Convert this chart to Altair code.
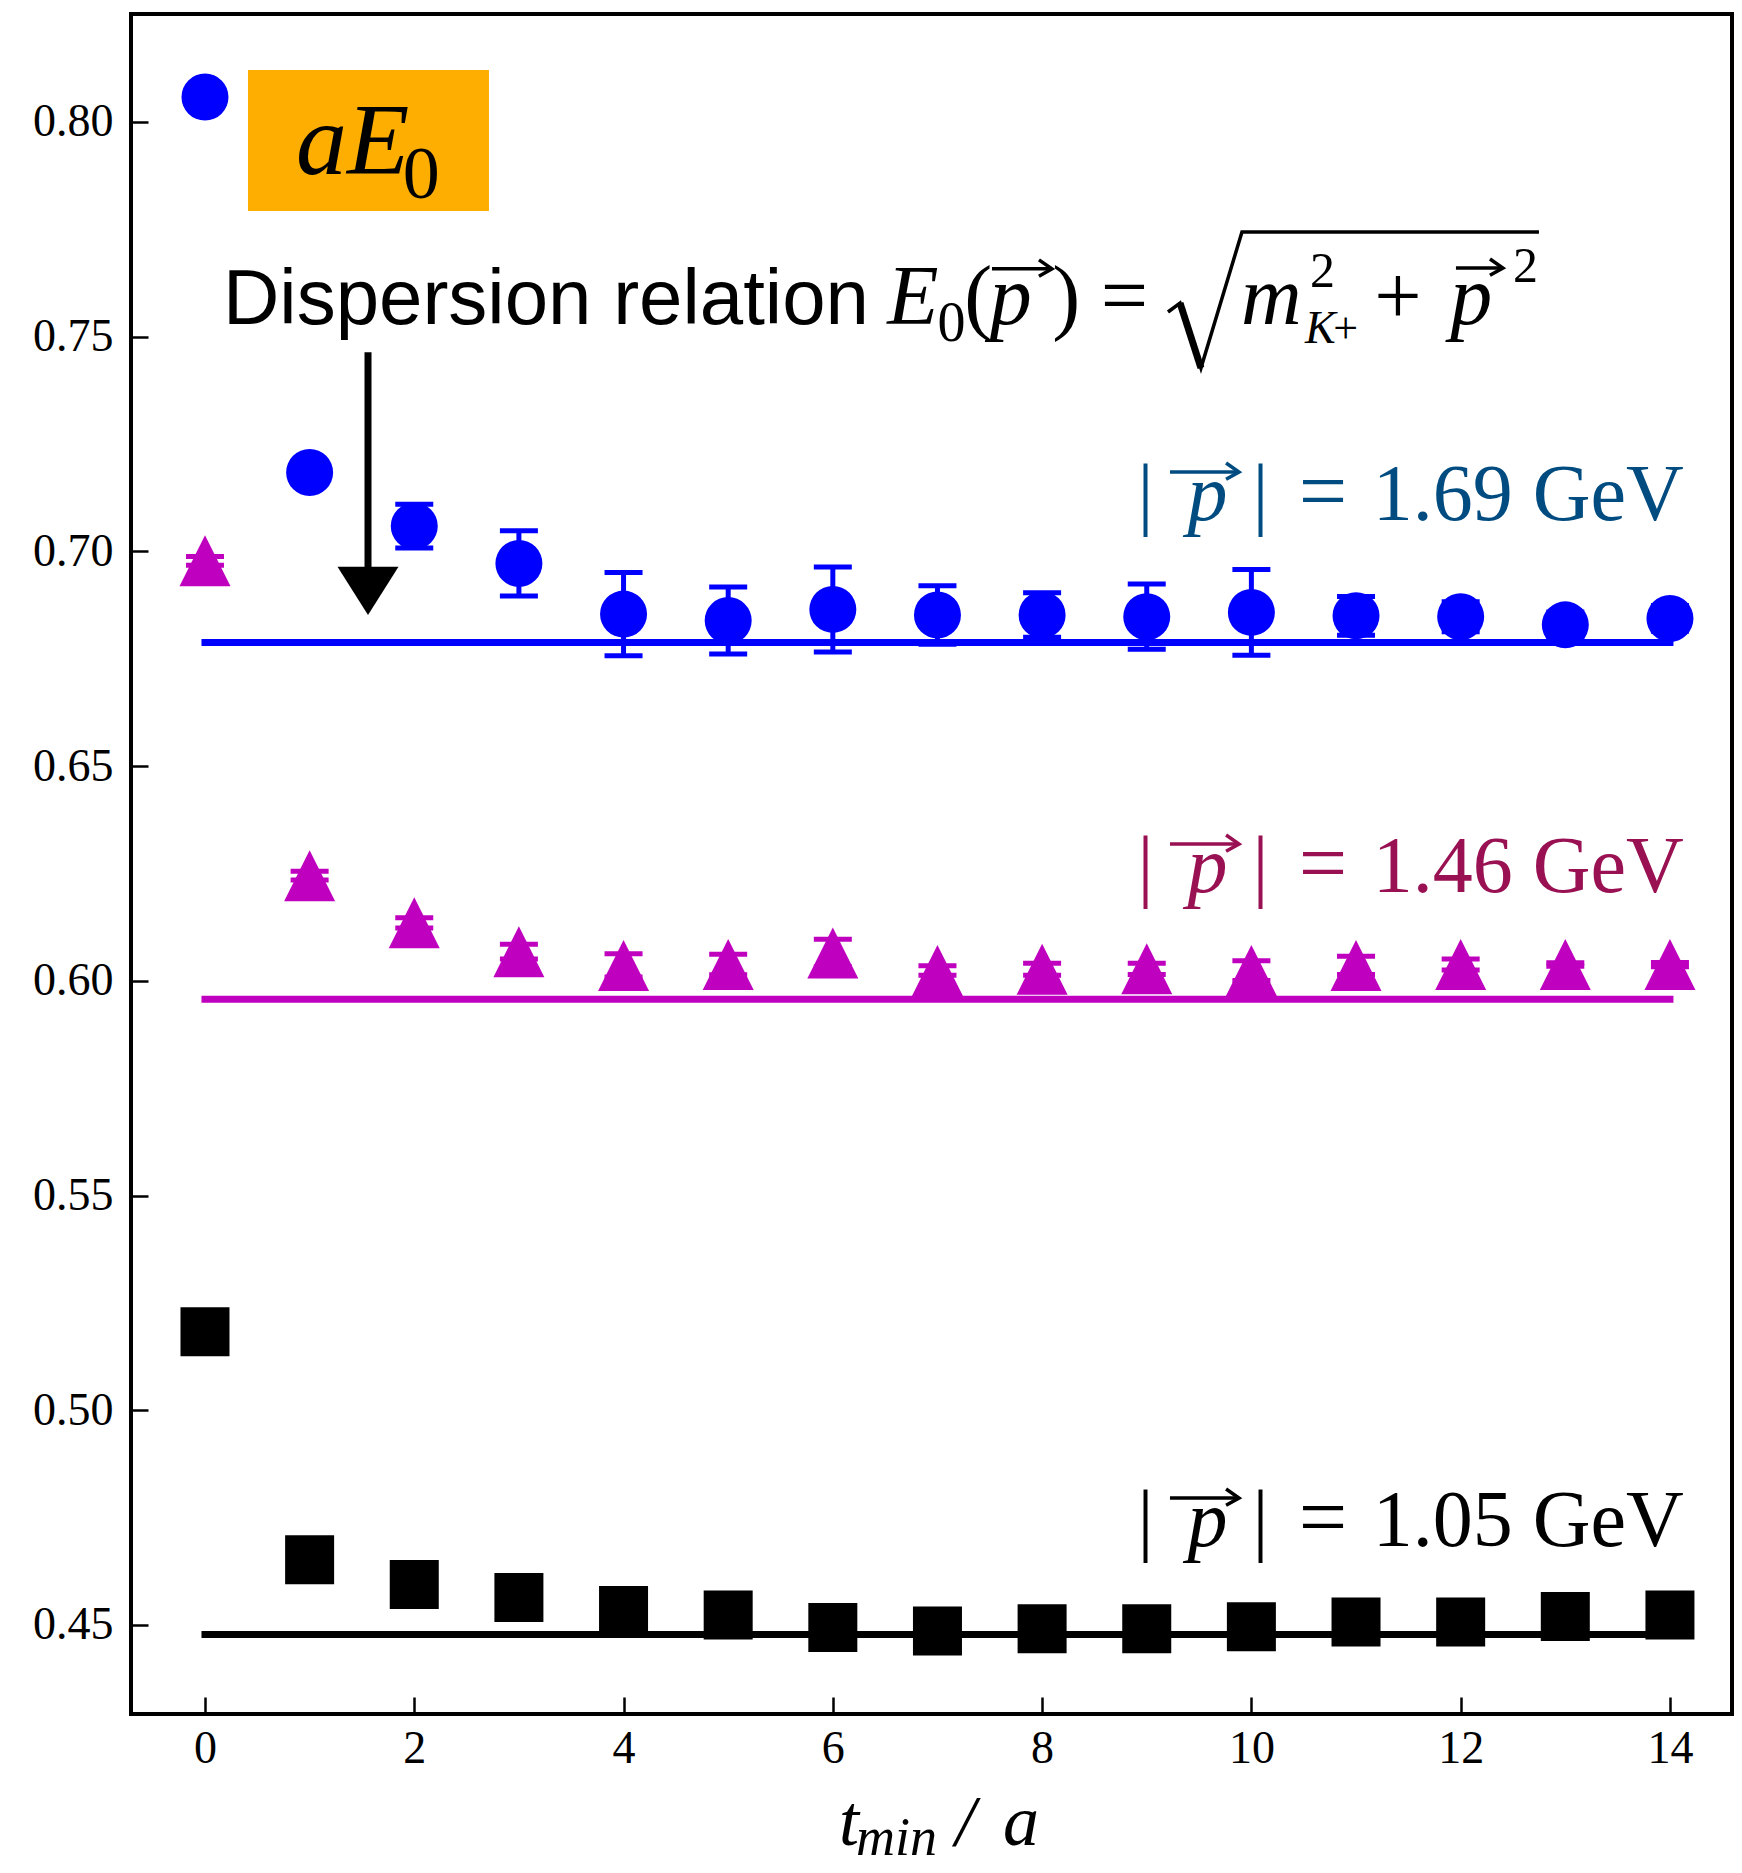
import altair as alt
import pandas as pd

# ---------------- data ----------------
t_min = list(range(15))
blue_E = [0.8058, 0.7184, 0.7059, 0.6972, 0.6854, 0.6839, 0.6865, 0.6852,
          0.6852, 0.6848, 0.6858, 0.6850, 0.6848, 0.6829, 0.6844]
blue_err = [0.0020, 0.0020, 0.0051, 0.0076, 0.0097, 0.0078, 0.0099, 0.0068,
            0.0052, 0.0076, 0.0100, 0.0045, 0.0035, 0.0030, 0.0030]
mag_E = [0.6978, 0.6245, 0.6135, 0.6068, 0.6036, 0.6038, 0.6065, 0.6024,
         0.6027, 0.6028, 0.6024, 0.6036, 0.6038, 0.6038, 0.6038]
mag_err = [0.0010, 0.0010, 0.0012, 0.0017, 0.0027, 0.0024, 0.0032, 0.0011,
           0.0014, 0.0013, 0.0023, 0.0021, 0.0013, 0.0004, 0.0005]
blk_E = [0.5183, 0.4652, 0.4594, 0.4564, 0.4534, 0.4523, 0.4494, 0.4486,
         0.4491, 0.4491, 0.4496, 0.4507, 0.4507, 0.4520, 0.4523]
fit_t = [0, 14]
blue_fit = [0.6788, 0.6788]
mag_fit = [0.5957, 0.5957]
blk_fit = [0.4478, 0.4478]
x_ticks = [0, 2, 4, 6, 8, 10, 12, 14]
y_ticks = [0.45, 0.50, 0.55, 0.60, 0.65, 0.70, 0.75, 0.80]
mom_labels = ["1.69 GeV", "1.46 GeV", "1.05 GeV"]

# ---------------- styles ----------------
BLUE, MAG, BLK = "#0000FF", "#BF00BF", "#000000"
LBL_COLORS = ["#004C80", "#991152", "#000000"]
SERIF, SANS = "Liberation Serif", "Liberation Sans"

xs = alt.Scale(domain=[-0.707, 14.593], nice=False, zero=False)
ys = alt.Scale(domain=[0.42927, 0.82515], nice=False, zero=False)
xax = alt.Axis(values=x_ticks, format="d", title=None, grid=False, domain=False,
               offset=-17, tickSize=17, tickWidth=2.5, tickColor="black",
               labelFont=SERIF, labelFontSize=46, labelColor="black",
               labelPadding=12, labelFlush=False, labelOverlap=False)
yax = alt.Axis(values=y_ticks, format=".2f", title=None, grid=False, domain=False,
               offset=-17, tickSize=17, tickWidth=2.5, tickColor="black",
               labelFont=SERIF, labelFontSize=46, labelColor="black",
               labelPadding=18, labelFlush=False, labelOverlap=False)


def X(f):
    return alt.X(f, type="quantitative", scale=xs, axis=xax)


def Y(f):
    return alt.Y(f, type="quantitative", scale=ys, axis=yax)


def series(vals, errs):
    return pd.DataFrame({"t": t_min, "E": vals,
                         "lo": [v - e for v, e in zip(vals, errs)],
                         "hi": [v + e for v, e in zip(vals, errs)]})


layers = []

# fit lines
for vals, col in [(blue_fit, BLUE), (mag_fit, MAG), (blk_fit, BLK)]:
    df = pd.DataFrame({"t": fit_t, "E": vals})
    layers.append(alt.Chart(df).mark_line(color=col, strokeWidth=7, strokeCap="square")
                  .encode(x=X("t"), y=Y("E")))

# error bars + markers
TRI = "M0,-1L1,1L-1,1Z"
for vals, errs, col, shape, size in [
    (blue_E, blue_err, BLUE, "circle", 2209),
    (mag_E, mag_err, MAG, TRI, 2601),
]:
    df = series(vals, errs)
    layers.append(alt.Chart(df).mark_rule(color=col, strokeWidth=5)
                  .encode(x=X("t"), y=Y("lo"), y2=alt.Y2("hi")))
    for f in ["lo", "hi"]:
        layers.append(alt.Chart(df).mark_tick(orient="horizontal", size=38, thickness=5,
                                              color=col, opacity=1)
                      .encode(x=X("t"), y=Y(f)))
    layers.append(alt.Chart(df).mark_point(shape=shape, size=size, filled=True,
                                           color=col, opacity=1, strokeWidth=0)
                  .encode(x=X("t"), y=Y("E")))

blk_df = pd.DataFrame({"t": t_min, "E": blk_E})
layers.append(alt.Chart(blk_df).mark_point(shape="square", size=2401, filled=True,
                                           color=BLK, opacity=1, strokeWidth=0)
              .encode(x=X("t"), y=Y("E")))

# ---------------- annotations ----------------
# aE0 box
box = pd.DataFrame({"x": [0.411], "x2": [2.714], "y": [0.81211], "y2": [0.77927]})
layers.append(alt.Chart(box).mark_rect(color="#FDAE00")
              .encode(x=X("x"), x2=alt.X2("x2"), y=Y("y"), y2=alt.Y2("y2")))


def text_layer(rows, **kw):
    df = pd.DataFrame(rows)
    return (alt.Chart(df).mark_text(baseline="alphabetic", **kw)
            .encode(x=X("x"), y=Y("y"), text=alt.Text("text:N"),
                    color=alt.Color("c:N", scale=None)))


layers.append(text_layer([dict(x=0.87, y=0.78789, text="aE", c=BLK)],
                         font=SERIF, fontSize=102, fontStyle="italic", align="left"))
layers.append(text_layer([dict(x=1.89, y=0.7823, text="0", c=BLK)],
                         font=SERIF, fontSize=74, align="left"))

# Dispersion relation
MS = 84
base_d = 0.75296
layers.append(text_layer([dict(x=0.172, y=base_d, text="Dispersion relation", c=BLK)],
                         font=SANS, fontSize=78, align="left"))
layers.append(text_layer([dict(x=6.52, y=base_d, text="E", c=BLK),
                          dict(x=9.90, y=base_d, text="m", c=BLK)],
                         font=SERIF, fontSize=MS, fontStyle="italic", align="left"))
layers.append(text_layer([dict(x=7.70, y=base_d, text="p", c=BLK),
                          dict(x=12.10, y=base_d, text="p", c=BLK)],
                         font=SERIF, fontSize=MS, fontStyle="italic", align="center"))
layers.append(text_layer([dict(x=7.39, y=base_d, text="(", c=BLK),
                          dict(x=8.23, y=base_d, text=")", c=BLK),
                          dict(x=8.787, y=base_d, text="=", c=BLK),
                          dict(x=11.40, y=base_d, text="+", c=BLK)],
                         font=SERIF, fontSize=MS, align="center"))
layers.append(text_layer([dict(x=7.00, y=0.74900, text="0", c=BLK)],
                         font=SERIF, fontSize=56, align="left"))
layers.append(text_layer([dict(x=10.68, y=0.76157, text="2", c=BLK),
                          dict(x=12.62, y=0.76274, text="2", c=BLK)],
                         font=SERIF, fontSize=50, align="center"))
layers.append(text_layer([dict(x=10.66, y=0.74850, text="K", c=BLK)],
                         font=SERIF, fontSize=46, fontStyle="italic", align="center"))
layers.append(text_layer([dict(x=10.90, y=0.74850, text="+", c=BLK)],
                         font=SERIF, fontSize=44, align="center"))

# momentum labels
bases = [0.70731, 0.62068, 0.46838]
bar_rows, p_rows, eq_rows, val_rows = [], [], [], []
for b, lab, col in zip(bases, mom_labels, LBL_COLORS):
    bar_rows += [dict(x=8.988, y=b, text="|", c=col), dict(x=10.087, y=b, text="|", c=col)]
    p_rows.append(dict(x=9.58, y=b, text="p", c=col))
    eq_rows.append(dict(x=10.684, y=b, text="=", c=col))
    val_rows.append(dict(x=11.16, y=b, text=lab, c=col))
layers.append(text_layer(bar_rows, font=SERIF, fontSize=80, align="center"))
layers.append(text_layer(p_rows, font=SERIF, fontSize=80, fontStyle="italic", align="center"))
layers.append(text_layer(eq_rows, font=SERIF, fontSize=86, align="center"))
layers.append(text_layer(val_rows, font=SERIF, fontSize=80, align="left"))

# vector arrows over p and the radical sign (annotation strokes)
path_rows = []


def arrow(gid, x1, x2, y, col):
    dx, up, dn = 0.124, 0.0021, 0.0017
    return [dict(g=gid + "s", o=0, x=x1, y=y, c=col), dict(g=gid + "s", o=1, x=x2, y=y, c=col),
            dict(g=gid + "h", o=0, x=x2 - dx, y=y + up, c=col),
            dict(g=gid + "h", o=1, x=x2, y=y, c=col),
            dict(g=gid + "h", o=2, x=x2 - dx, y=y - dn, c=col)]


path_rows += arrow("d1", 7.521, 8.094, 0.76580, BLK)
path_rows += arrow("d2", 11.955, 12.404, 0.76600, BLK)
for i, (b, col) in enumerate(zip(bases, LBL_COLORS)):
    path_rows += arrow("l%d" % i, 9.222, 9.882, b + 0.01118, col)
rad_x = [9.203, 9.318, 9.518, 9.910, 12.748]
rad_y = [0.75575, 0.75785, 0.74271, 0.77438, 0.77438]
for i, (xx, yy) in enumerate(zip(rad_x, rad_y)):
    path_rows.append(dict(g="rad", o=i, x=xx, y=yy, c=BLK))
paths = pd.DataFrame(path_rows)
layers.append(alt.Chart(paths).mark_line(strokeWidth=3.5, strokeJoin="miter")
              .encode(x=X("x"), y=Y("y"), detail="g:N", order="o:Q",
                      color=alt.Color("c:N", scale=None)))
thick = pd.DataFrame({"x": rad_x[1:3], "y": rad_y[1:3], "g": ["r", "r"], "o": [0, 1]})
layers.append(alt.Chart(thick).mark_line(strokeWidth=7, color=BLK)
              .encode(x=X("x"), y=Y("y"), detail="g:N", order="o:Q"))

# hand-drawn arrow
shaft = pd.DataFrame({"x": [1.558], "y": [0.7464], "y2": [0.6957]})
layers.append(alt.Chart(shaft).mark_rule(color=BLK, strokeWidth=7)
              .encode(x=X("x"), y=Y("y"), y2=alt.Y2("y2")))
head = pd.DataFrame({"x": [1.558], "y": [0.6908]})
layers.append(alt.Chart(head).mark_point(shape="M-1,-0.79L1,-0.79L0,0.79Z", size=3721,
                                         filled=True, color=BLK, opacity=1, strokeWidth=0)
              .encode(x=X("x"), y=Y("y")))

# x-axis title  t_min / a
layers.append(text_layer([dict(x=6.059, y=0.39875, text="t", c=BLK),
                          dict(x=7.17, y=0.39875, text="/", c=BLK),
                          dict(x=7.626, y=0.39875, text="a", c=BLK)],
                         font=SERIF, fontSize=72, fontStyle="italic", align="left"))
layers.append(text_layer([dict(x=6.221, y=0.39640, text="min", c=BLK)],
                         font=SERIF, fontSize=54, fontStyle="italic", align="left"))

chart = (alt.layer(*layers)
         .properties(width=1601, height=1700,
                     autosize=alt.AutoSizeParams(type="none"),
                     padding={"left": 123, "top": 6, "right": 2, "bottom": 147},
                     background="white")
         .configure_view(stroke="black", strokeWidth=4))

chart.save("out.html", embed_options={"renderer": "svg", "actions": False})
